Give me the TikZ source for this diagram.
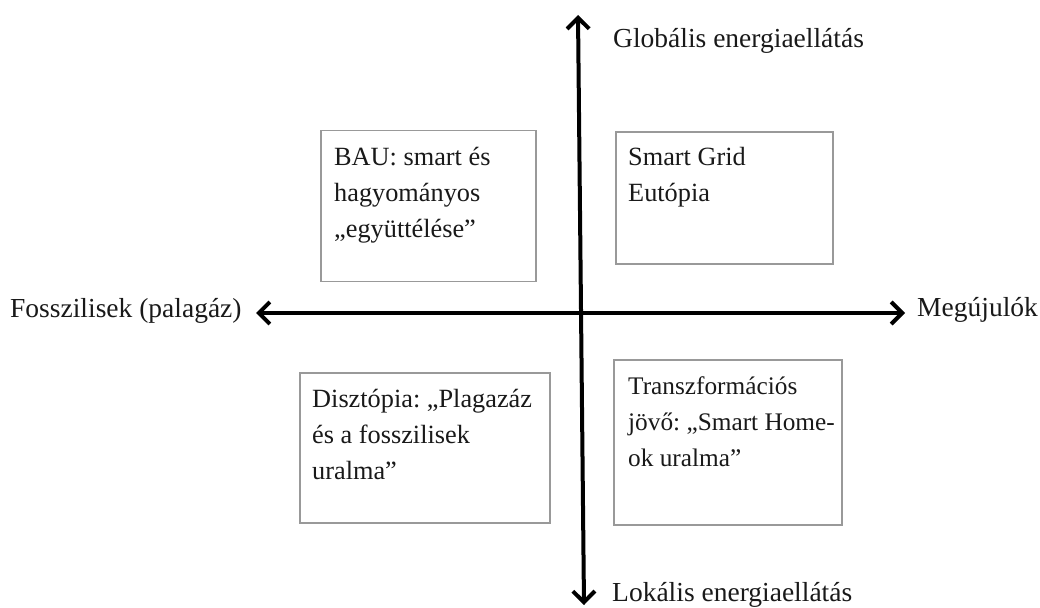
\documentclass[tikz,border=0pt]{standalone}
\usepackage{fontspec}
\setmainfont{Liberation Serif}
\usetikzlibrary{arrows.meta}
\frenchspacing
\begin{document}
\begin{tikzpicture}[x=1pt,y=-1pt,
  txt/.style={inner sep=0pt, anchor=base west, align=left, text=black!90,
    font=\fontsize{27.5}{36}\selectfont},
  boxtxt/.style={txt, font=\fontsize{26.3}{36}\selectfont},
  narrowtxt/.style={txt, font=\fontsize{25.3}{36}\selectfont},
  scenbox/.style={draw=black!40, line width=1.4pt, inner sep=0pt},
  axis/.style={line width=4pt, {Straight Barb[length=11pt,width=22pt]}-{Straight Barb[length=11pt,width=22pt]}}
]
\useasboundingbox (0,0) rectangle (1040,607);
% axes end points
\coordinate (ytop) at (578,15);
\coordinate (ybot) at (584,605);
\coordinate (xleft) at (256,313);
\coordinate (xright) at (905,313);
\draw[axis] (xleft) -- (xright);
\draw[axis] (ybot) -- (ytop);
% axis labels
\node[txt] (glob) at (613,48) {Globális energiaellátás};
\node[txt] (lok) at (612,601) {Lokális energiaellátás};
\node[txt] (foss) at (10,317) {Fosszilisek (palagáz)};
\node[txt] (megu) at (917,316) {Megújulók};
% scenario boxes
\node[scenbox, minimum width=215pt, minimum height=151pt] (bau) at (428.5,206) {};
\node[scenbox, minimum width=217pt, minimum height=132pt] (sg) at (724.5,198) {};
\node[scenbox, minimum width=250pt, minimum height=150pt] (dis) at (425,448) {};
\node[scenbox, minimum width=228pt, minimum height=165pt] (tr) at (728,442.5) {};
% box texts (anchored at the baseline of their last line)
\node[boxtxt] (baut) at (334,237) {BAU: smart és\\hagyományos\\„együttélése”};
\node[boxtxt] (sgt) at (628,201) {Smart Grid\\Eutópia};
\node[boxtxt] (dist) at (312,479) {Disztópia: „Plagazáz\\és a fosszilisek\\uralma”};
\node[narrowtxt] (trt) at (628,466) {Transzformációs\\jövő: „Smart Home-\\ok uralma”};
\end{tikzpicture}
\end{document}
